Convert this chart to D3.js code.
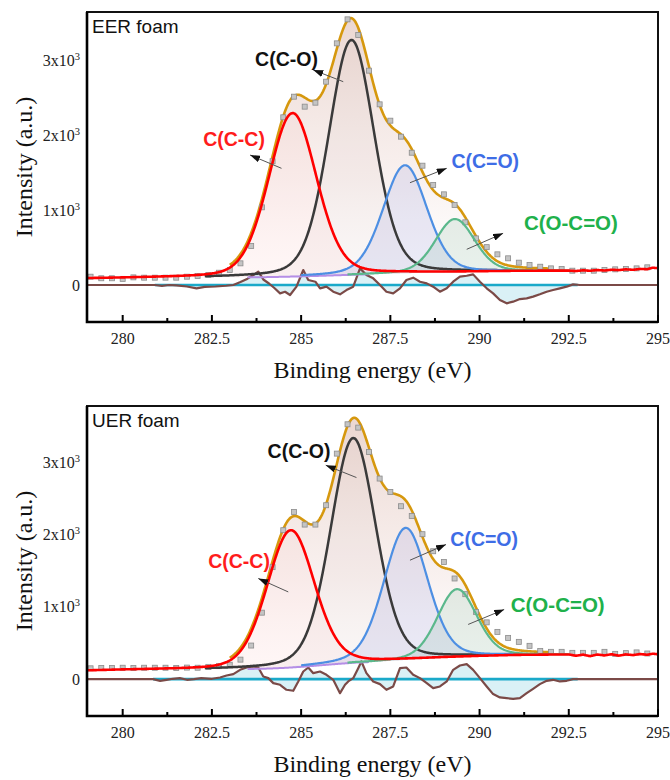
<!DOCTYPE html>
<html><head><meta charset="utf-8">
<script src="https://cdn.jsdelivr.net/npm/d3@7"></script>
<style>body{margin:0;background:#fff}</style>
</head><body>
<svg id="chart" width="670" height="780"></svg>
<script>
// ---------------- data ----------------
const xTicks = [280, 282.5, 285, 287.5, 290, 292.5, 295];
const xMinorTicks = [281.25, 283.75, 286.25, 288.75, 291.25, 293.75];
const yTicks = [0, 1000, 2000, 3000];
const yTickMantissa = ["0", "1x10", "2x10", "3x10"];
const yTickExponent = ["", "3", "3", "3"];
const xTitle = "Binding energy (eV)";
const yTitle = "Intensity (a.u.)";
const panelNames = ["EER foam", "UER foam"];
const componentNames = ["C(C-C)", "C(C-O)", "C(C=O)", "C(O-C=O)"];

// measured points (every 0.3 eV)
const rawEnergy = d3.range(53).map(i => +(279.1 + 0.3 * i).toFixed(1));
const eerRaw = [111, 90, 90, 82, 102, 98, 98, 98, 98, 111, 120, 133, 164, 200,
  289, 520, 1036, 1650, 2236, 2511, 2378, 2431, 2711, 3222, 3542, 3333, 2858,
  2409, 2191, 1978, 1764, 1591, 1333, 1209, 1067, 836, 622, 505, 409, 356,
  298, 267, 244, 222, 213, 191, 191, 191, 200, 209, 213, 222, 236];
const uerRaw = [150, 155, 155, 158, 155, 158, 158, 158, 155, 160, 158, 170, 180, 200,
  270, 465, 920, 1550, 2061, 2314, 2139, 2139, 2407, 3121, 3527, 3481, 3144,
  2776, 2591, 2393, 2259, 2006, 1770, 1622, 1393, 1176, 931, 786, 654, 571,
  516, 461, 391, 378, 378, 364, 364, 364, 378, 350, 360, 370, 355];

// Shirley-type background (energy, intensity)
const eerBackground = [[279, 85], [280, 90], [281, 95], [282, 98], [283, 100], [284, 105],
  [284.5, 110], [285, 115], [285.5, 122], [286, 130], [286.5, 138], [287, 145],
  [287.5, 152], [288, 158], [289, 165], [290, 175], [291, 183], [292, 187], [292.5, 188],
  [292.7, 182], [292.9, 192], [293.1, 186], [293.3, 196], [293.5, 190], [293.7, 200],
  [293.9, 196], [294.1, 206], [294.3, 200], [294.5, 212], [294.7, 208], [294.85, 228], [295, 222]];
const uerBackground = [[279, 115], [280, 125], [281, 130], [282, 133], [283, 136], [284, 145],
  [284.5, 155], [285, 170], [285.5, 190], [286, 210], [286.5, 228], [287, 238],
  [288, 268], [289, 295], [290, 315], [291, 330], [292, 336], [292.5, 338],
  [292.7, 320], [292.9, 335], [293.1, 315], [293.3, 338], [293.5, 325], [293.7, 342],
  [293.9, 322], [294.1, 340], [294.3, 330], [294.5, 345], [294.7, 335], [294.85, 350], [295, 342]];

// fitted components: centre (eV), height, FWHM (eV)
const eerCenters = [284.76, 286.41, 287.91, 289.31];
const eerHeights = [2180, 3130, 1440, 712];
const eerFwhm = [1.59, 1.50, 1.45, 1.30];
const uerCenters = [284.71, 286.46, 287.93, 289.37];
const uerHeights = [1900, 3110, 1827, 943];
const uerFwhm = [1.57, 1.50, 1.45, 1.30];
const lorentzFraction = 0.2;

// residuals (energy, intensity)
const eerResidual = [[279, 0], [280.9, 0], [281.1, -12], [281.3, 0], [281.5, -5], [281.8, -20],
  [282.07, -44], [282.3, -25], [282.6, -20], [282.9, -10], [283.1, 0], [283.3, 40], [283.5, 85],
  [283.65, 130], [283.8, 178], [283.95, 70], [284.1, 20], [284.25, -40], [284.41, -111],
  [284.55, -90], [284.69, -133], [284.87, -22], [285.06, 200], [285.2, 67], [285.4, 44],
  [285.53, -44], [285.71, -22], [285.9, -89], [286.09, -124], [286.27, -67], [286.46, -22],
  [286.65, 222], [286.83, 133], [287.02, 89], [287.21, 0], [287.39, -89], [287.58, -111],
  [287.77, -44], [287.95, 67], [288.14, 98], [288.33, 44], [288.52, 22], [288.7, -22],
  [288.89, -89], [289.08, -44], [289.26, 44], [289.45, 111], [289.64, 124], [289.82, 142],
  [290.01, 44], [290.2, -44], [290.38, -111], [290.57, -200], [290.76, -244], [290.94, -222],
  [291.13, -187], [291.32, -178], [291.5, -155], [291.69, -124], [291.88, -89], [292.06, -67],
  [292.25, -44], [292.44, -22], [292.62, 9], [292.81, 0], [295, 0]];
const uerResidual = [[279, 0], [280.85, 0], [281.05, -23], [281.23, -9], [281.4, 5], [281.6, 14],
  [281.8, -9], [282.0, 0], [282.2, 14], [282.5, 5], [282.73, 23], [282.91, 51], [283.1, 69],
  [283.29, 129], [283.47, 161], [283.66, 175], [283.8, 161], [283.94, 37], [284.08, 14],
  [284.22, -55], [284.41, -78], [284.59, -147], [284.78, -161], [284.92, -32], [285.06, 106],
  [285.2, 161], [285.34, 83], [285.53, 106], [285.71, 60], [285.9, -9], [286.09, -194],
  [286.23, -78], [286.32, -32], [286.46, 14], [286.6, 152], [286.69, 244], [286.83, 83],
  [287.02, -32], [287.21, -69], [287.39, -147], [287.58, -101], [287.77, 152], [287.95, 161],
  [288.14, 60], [288.33, 14], [288.52, -55], [288.7, -124], [288.89, -101], [289.08, -32],
  [289.26, 129], [289.45, 189], [289.64, 207], [289.82, 129], [290.01, 14], [290.2, -101],
  [290.38, -207], [290.57, -253], [290.76, -263], [290.94, -272], [291.13, -263], [291.32, -194],
  [291.5, -134], [291.69, -69], [291.88, -23], [292.06, -9], [292.25, -32], [292.44, -23],
  [292.62, 0], [295, 0]];

// annotation anchors in data units: label [e, I], arrow tail [e, I], arrow head [e, I]
const eerLabelAt = [[283.12, 1853], [284.59, 2920], [290.16, 1560], [292.56, 733]];
const eerArrowFrom = [[284.45, 1556], [286.18, 2711], [288.05, 1364], [289.64, 476]];
const eerArrowTo = [[283.57, 1733], [285.34, 2867], [289.08, 1556], [290.66, 689]];
const uerLabelAt = [[283.26, 1535], [284.94, 3057], [290.13, 1840], [292.19, 927]];
const uerArrowFrom = [[284.64, 1207], [286.55, 2790], [288.05, 1646], [289.68, 757]];
const uerArrowTo = [[283.80, 1393], [285.69, 2960], [289.06, 1863], [290.69, 964]];

// ---------------- drawing ----------------
const lineColors = ["#ff0000", "#3a3a3a", "#4d8fe3", "#5bb88c"];
const fillColors = ["rgba(255,150,150,0.08)", "rgba(150,120,120,0.05)", "rgba(110,120,215,0.14)", "rgba(90,160,130,0.14)"];
const labelColors = ["#ff1c1c", "#111111", "#3e6de6", "#20b14b"];
const compRanges = [[279, 295], [282.3, 290.5], [285.0, 291.5], [286.3, 292.5]];

const svg = d3.select("#chart");
const defs = svg.append("defs");
defs.append("marker").attr("id", "ah").attr("viewBox", "0 0 10 7")
  .attr("markerWidth", 10).attr("markerHeight", 7).attr("markerUnits", "userSpaceOnUse")
  .attr("refX", 10).attr("refY", 3.5).attr("orient", "auto")
  .append("path").attr("d", "M0,0L10,3.5L0,7Z").attr("fill", "#111");

const x = d3.scaleLinear().domain([279, 295]).range([87, 658]);
const fineE = d3.range(279, 295.0001, 0.02);

function pv(e, c, h, w) {
  const t = (e - c) / w;
  return h * (lorentzFraction / (1 + 4 * t * t) + (1 - lorentzFraction) * Math.exp(-4 * Math.LN2 * t * t));
}

function drawPanel(idx, top, bottom, yDomain, raw, bgPts, centers, heights, fwhm, resid, labelAt, arrFrom, arrTo) {
  const y = d3.scaleLinear().domain(yDomain).range([bottom, top]);
  const bg = d3.scaleLinear().domain(bgPts.map(d => d[0])).range(bgPts.map(d => d[1])).clamp(true);
  const comp = (k, e) => pv(e, centers[k], heights[k], fwhm[k]);
  const envelope = e => bg(e) + d3.sum(centers, (c, k) => comp(k, e));

  const clipId = "clip" + idx;
  defs.append("clipPath").attr("id", clipId).append("rect")
    .attr("x", 87).attr("y", top).attr("width", 571).attr("height", bottom - top);
  const gradId = "grad" + idx;
  const grad = defs.append("linearGradient").attr("id", gradId)
    .attr("gradientUnits", "userSpaceOnUse").attr("x1", 0).attr("x2", 0)
    .attr("y1", y(3500)).attr("y2", y(0));
  grad.append("stop").attr("offset", 0).attr("stop-color", "#dcb8ad").attr("stop-opacity", 0.55);
  grad.append("stop").attr("offset", 0.6).attr("stop-color", "#efdcd8").attr("stop-opacity", 0.4);
  grad.append("stop").attr("offset", 1).attr("stop-color", "#ffffff").attr("stop-opacity", 0.2);

  const g = svg.append("g").attr("clip-path", `url(#${clipId})`);
  const envE = fineE.filter(e => e >= 283.0 && e <= 292.0);

  // envelope fill
  g.append("path").datum(envE)
    .attr("d", d3.area().x(e => x(e)).y0(e => y(bg(e))).y1(e => y(envelope(e))))
    .attr("fill", `url(#${gradId})`);
  // component fills
  centers.forEach((c, k) => {
    const es = fineE.filter(e => Math.abs(e - c) < 2.2 * fwhm[k]);
    g.append("path").datum(es)
      .attr("d", d3.area().x(e => x(e)).y0(e => y(bg(e))).y1(e => y(bg(e) + comp(k, e))))
      .attr("fill", fillColors[k]);
  });

  // residual fill and lines
  g.append("path").datum(resid)
    .attr("d", d3.area().x(d => x(d[0])).y0(y(0)).y1(d => y(d[1])))
    .attr("fill", "rgba(150,215,228,0.35)");
  g.append("line").attr("x1", x(resid[1][0])).attr("x2", x(292.75))
    .attr("y1", y(0)).attr("y2", y(0)).attr("stroke", "#1aa9c9").attr("stroke-width", 2.6);
  g.append("path").datum(resid)
    .attr("d", d3.line().x(d => x(d[0])).y(d => y(d[1])))
    .attr("fill", "none").attr("stroke", "#7b4a47").attr("stroke-width", 2.2).attr("stroke-linejoin", "round");

  // background (purple) segment
  g.append("path").datum(fineE.filter(e => e >= 283.5 && e <= 286.9))
    .attr("d", d3.line().x(e => x(e)).y(e => y(bg(e))))
    .attr("fill", "none").attr("stroke", "#b58ee6").attr("stroke-width", 2);

  // envelope line
  g.append("path").datum(envE)
    .attr("d", d3.line().x(e => x(e)).y(e => y(envelope(e))))
    .attr("fill", "none").attr("stroke", "#d6980e").attr("stroke-width", 2.6);

  // measured points
  g.selectAll("rect.pt").data(rawEnergy).enter().append("rect")
    .attr("x", e => x(e) - 2.5).attr("y", (e, i) => y(raw[i]) - 2.5)
    .attr("width", 5).attr("height", 5)
    .attr("fill", "#c4c4c4").attr("stroke", "#8c8c8c").attr("stroke-width", 0.8);

  // component lines (red last)
  [1, 2, 3, 0].forEach(k => {
    const es = fineE.filter(e => e >= compRanges[k][0] && e <= compRanges[k][1]);
    g.append("path").datum(es)
      .attr("d", d3.line().x(e => x(e)).y(e => y(bg(e) + comp(k, e))))
      .attr("fill", "none").attr("stroke", lineColors[k])
      .attr("stroke-width", k === 0 ? 2.6 : (k === 1 ? 2.5 : 2.2));
  });

  // annotations
  componentNames.forEach((name, k) => {
    svg.append("line")
      .attr("x1", x(arrFrom[k][0])).attr("y1", y(arrFrom[k][1]))
      .attr("x2", x(arrTo[k][0])).attr("y2", y(arrTo[k][1]))
      .attr("stroke", "#555").attr("stroke-width", 1).attr("marker-end", "url(#ah)");
    svg.append("text").attr("x", x(labelAt[k][0])).attr("y", y(labelAt[k][1]))
      .attr("text-anchor", "middle")
      .attr("font-family", "'Liberation Sans', Arial, sans-serif")
      .attr("font-weight", "bold").attr("font-size", k === 3 ? 20.5 : 19.5)
      .attr("fill", labelColors[k]).text(name);
  });

  // frame
  svg.append("rect").attr("x", 87).attr("y", top).attr("width", 571).attr("height", bottom - top)
    .attr("fill", "none").attr("stroke", "#111").attr("stroke-width", 2);
  svg.append("path").attr("d", `M87,${top}V${bottom}H658`)
    .attr("fill", "none").attr("stroke", "#000").attr("stroke-width", 2.6);

  // x ticks (inward)
  const ax = svg.append("g").attr("transform", `translate(0,${bottom})`);
  ax.selectAll("line.maj").data(xTicks).enter().append("line")
    .attr("x1", d => x(d)).attr("x2", d => x(d)).attr("y1", 0).attr("y2", -7)
    .attr("stroke", "#000").attr("stroke-width", 2);
  ax.selectAll("line.min").data(xMinorTicks).enter().append("line")
    .attr("x1", d => x(d)).attr("x2", d => x(d)).attr("y1", 0).attr("y2", -4)
    .attr("stroke", "#000").attr("stroke-width", 2);
  ax.selectAll("text").data(xTicks).enter().append("text")
    .attr("x", d => x(d)).attr("y", 22).attr("text-anchor", "middle")
    .attr("font-family", "'Liberation Serif', 'Times New Roman', serif").attr("font-size", 16)
    .attr("fill", "#222").text(d => d);
  svg.append("text").attr("x", x(287)).attr("y", bottom + 56).attr("text-anchor", "middle")
    .attr("font-family", "'Liberation Serif', 'Times New Roman', serif").attr("font-size", 24)
    .attr("fill", "#111").text(xTitle);

  // y tick labels
  yTicks.forEach((v, i) => {
    const t = svg.append("text").attr("x", 80).attr("y", y(v) + 5.5).attr("text-anchor", "end")
      .attr("font-family", "'Liberation Serif', 'Times New Roman', serif").attr("font-size", 16)
      .attr("fill", "#222");
    t.append("tspan").text(yTickMantissa[i]);
    if (yTickExponent[i]) t.append("tspan").attr("dy", -6).attr("font-size", 10.5).text(yTickExponent[i]);
  });
  const cy = (top + bottom) / 2;
  svg.append("text").attr("transform", `translate(32,${cy}) rotate(-90)`).attr("text-anchor", "middle")
    .attr("font-family", "'Liberation Serif', 'Times New Roman', serif").attr("font-size", 24)
    .attr("fill", "#111").text(yTitle);

  // panel name
  svg.append("text").attr("x", 92).attr("y", top + 21)
    .attr("font-family", "'Liberation Sans', Arial, sans-serif").attr("font-size", 19)
    .attr("fill", "#111").text(panelNames[idx]);
}

drawPanel(0, 12, 322, [-493, 3640], eerRaw, eerBackground, eerCenters, eerHeights, eerFwhm,
  eerResidual, eerLabelAt, eerArrowFrom, eerArrowTo);
drawPanel(1, 406, 716, [-510, 3780], uerRaw, uerBackground, uerCenters, uerHeights, uerFwhm,
  uerResidual, uerLabelAt, uerArrowFrom, uerArrowTo);
</script>
</body></html>
